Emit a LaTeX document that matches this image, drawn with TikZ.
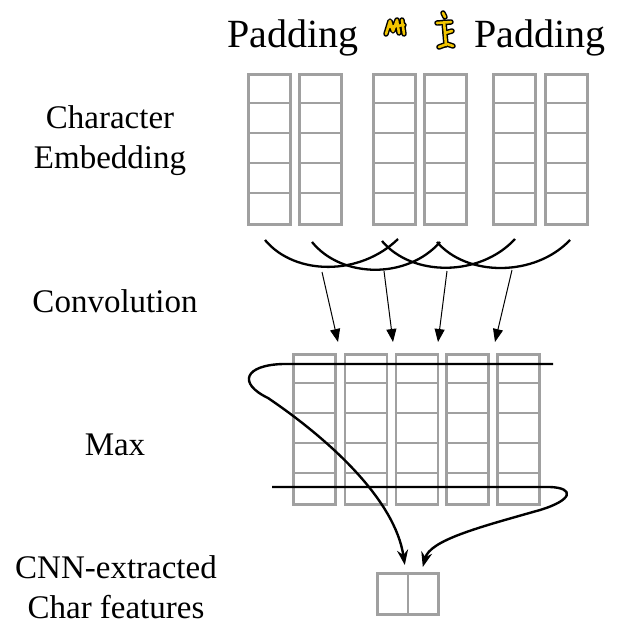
\documentclass[tikz,border=0pt]{standalone}
\usepackage{fontspec}
\setmainfont{Liberation Serif}
\usetikzlibrary{arrows.meta}
\definecolor{cellgray}{HTML}{A0A0A0}
\definecolor{glyphyellow}{HTML}{F2C500}
\tikzset{
  col/.style={draw=cellgray, line width=2.8pt, minimum width=42pt, minimum height=150pt, inner sep=0pt, anchor=north west},
  cell/.style={draw=cellgray, line width=2.8pt, minimum width=30.5pt, minimum height=41pt, inner sep=0pt, anchor=north west},
  rowline/.style={draw=cellgray, line width=2.8pt},
  lbl/.style={font=\fontsize{33}{40}\selectfont, align=center, anchor=base, inner sep=0pt},
  pad/.style={font=\fontsize{40}{48}\selectfont, anchor=base, inner sep=0pt},
  conv/.style={line width=2.3pt},
  convarrow/.style={line width=1pt, -{Triangle[length=13pt, width=10pt]}},
  maxarrow/.style={line width=2.4pt, -{Stealth[length=15pt, width=11pt]}},
  glyphout/.style={line width=5.5pt, line cap=round, line join=round, black},
  glyphin/.style={line width=2.6pt, line cap=round, line join=round, glyphyellow}
}
\begin{document}
\begin{tikzpicture}[x=1pt, y=-1pt]
\useasboundingbox (0,0) rectangle (621,637);
% top labels
\node[pad] (padL) at (293,47) {Padding};
\node[pad] (padR) at (540,47) {Padding};
% yellow glyphs
\foreach \st in {glyphout, glyphin}{
  \draw[\st] (386,34) -- (390,21) -- (393,31) -- (397,20) -- (399,33);
  \draw[\st] (389,27) -- (404,25);
  \draw[\st] (402,20) -- (404,34);
  \draw[\st] (443,13) -- (445,17);
  \draw[\st] (437,23) -- (451,22);
  \draw[\st] (444,22) -- (446,45);
  \draw[\st] (445,33) -- (452,31);
  \draw[\st] (439,47) -- (447,44) -- (453,46);
}
% left labels
\node[lbl] (lemb) at (110,168) {Character\\Embedding};
\node[lbl] (lconv) at (115,312) {Convolution};
\node[lbl] (lmax) at (115,455) {Max};
\node[lbl] (lcnn) at (116,618) {CNN-extracted\\Char features};
% top columns
\foreach \i/\x in {1/247,2/298,3/372,4/423,5/492,6/544}{
  \node[col] (t\i) at (\x,73) {};
  \foreach \k in {1,2,3,4}{
    \draw[rowline] ([yshift=-30pt*\k]t\i.north west) -- ([yshift=-30pt*\k]t\i.north east);
  }
}
% middle columns
\foreach \i/\x in {1/292,2/343.5,3/394.5,4/445,5/496}{
  \node[col] (m\i) at (\x,353) {};
  \foreach \k in {1,2,3,4}{
    \draw[rowline] ([yshift=-30pt*\k]m\i.north west) -- ([yshift=-30pt*\k]m\i.north east);
  }
}
% output cells
\node[cell] (o1) at (376,572) {};
\node[cell] (o2) at (406.5,572) {};
% convolution arcs
\coordinate (a1s) at (265,240); \coordinate (a1e) at (398,239);
\coordinate (a2s) at (312,242); \coordinate (a2e) at (440,242);
\coordinate (a3s) at (382,241); \coordinate (a3e) at (515,239);
\coordinate (a4s) at (437,242); \coordinate (a4e) at (570,240);
\draw[conv] (a1s) .. controls (295,276) and (360,276) .. (a1e);
\draw[conv] (a2s) .. controls (342,279) and (408,279) .. (a2e);
\draw[conv] (a3s) .. controls (412,277) and (480,277) .. (a3e);
\draw[conv] (a4s) .. controls (467,277) and (535,277) .. (a4e);
% convolution arrows
\coordinate (c1) at (322,272); \coordinate (c2) at (384,271);
\coordinate (c3) at (447,271); \coordinate (c4) at (512,270);
\coordinate (d1) at (338,342); \coordinate (d2) at (393,342);
\coordinate (d3) at (438,342); \coordinate (d4) at (495,342);
\foreach \i in {1,2,3,4}{ \draw[convarrow] (c\i) -- (d\i); }
% max lines
\coordinate (mt) at (553,364);
\coordinate (mb) at (272,487);
\coordinate (tip1) at ([xshift=-4.5pt, yshift=7pt]o1.north east);
\coordinate (tip2) at ([xshift=13.5pt, yshift=5pt]o1.north east);
\draw[maxarrow] (mt) -- (283,364) .. controls (245,365) and (237,383) .. (268,398)
   .. controls (330,440) and (395,500) .. (tip1);
\draw[maxarrow] (mb) -- (550,487) .. controls (575,488) and (573,500) .. (540,510)
   .. controls (480,527) and (430,540) .. (tip2);
\end{tikzpicture}
\end{document}
